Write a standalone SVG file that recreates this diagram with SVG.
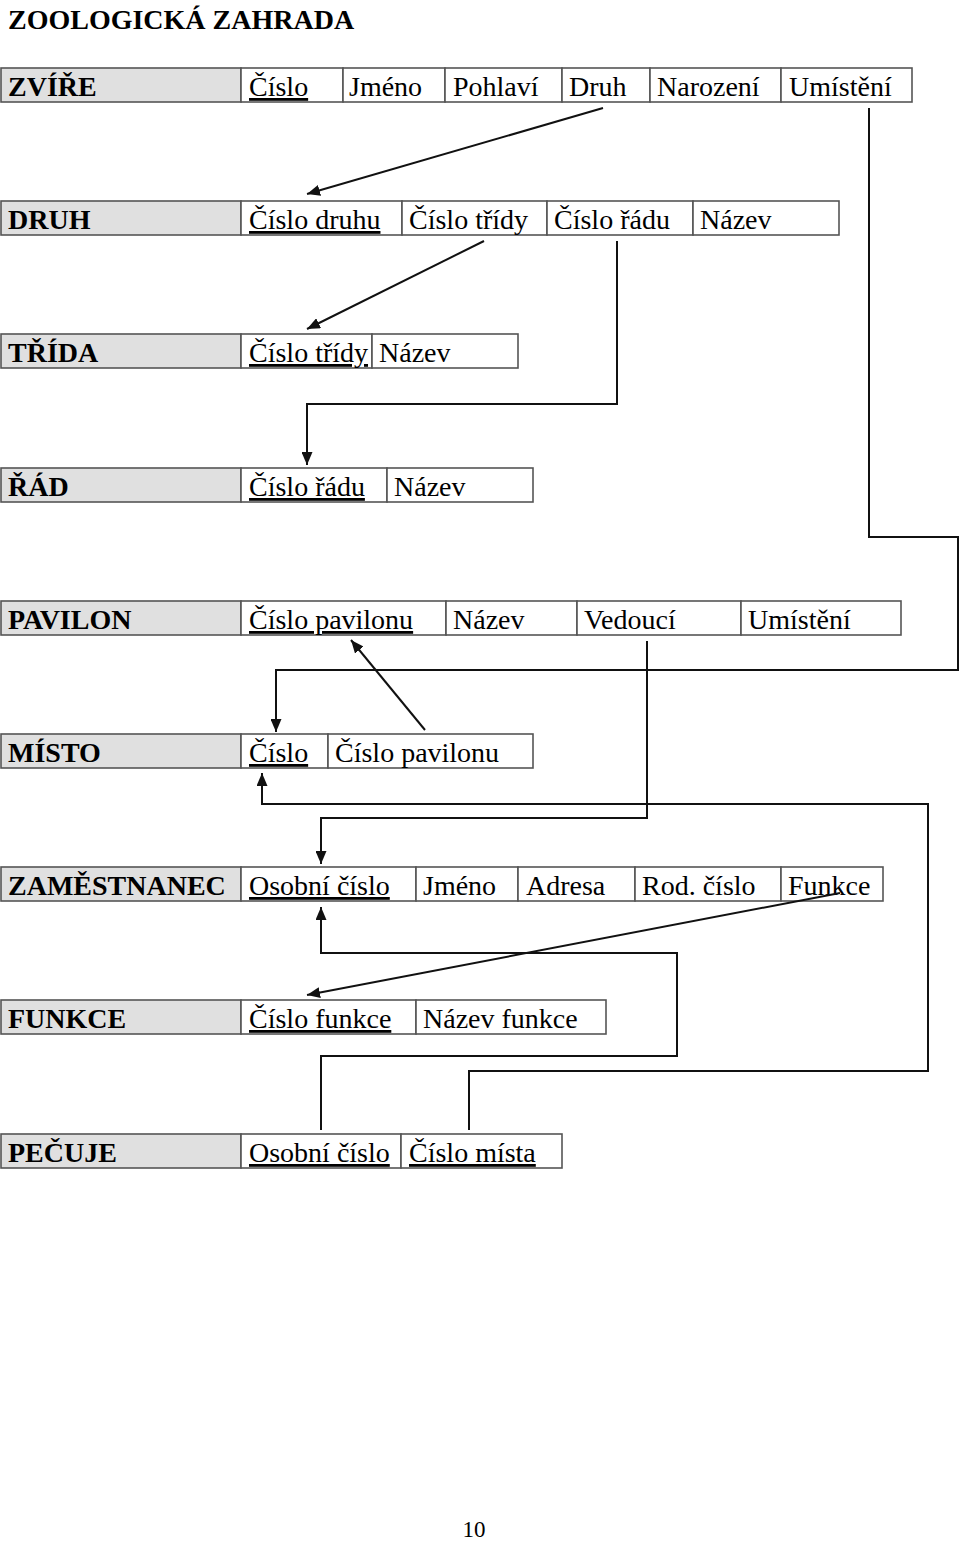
<svg xmlns="http://www.w3.org/2000/svg" width="960" height="1541" viewBox="0 0 960 1541">
<style>
  text { font-family: "Liberation Serif", "Times New Roman", serif; font-size: 28px; fill: #000; }
  .title, .name { font-weight: bold; }
  .key { text-decoration: underline; }
  .hd { fill: #e0e0e0; stroke: #555; stroke-width: 1.6; }
  .cell { fill: #fff; stroke: #555; stroke-width: 1.6; }
  .conn { fill: none; stroke: #111; stroke-width: 2; }
  .page { font-size: 23px; }
</style>
<defs>
  <marker id="arr" markerUnits="userSpaceOnUse" markerWidth="13" markerHeight="11" refX="13" refY="5.5" orient="auto">
    <path d="M0,0 L13,5.5 L0,11 z" fill="#111"/>
  </marker>
</defs>
<rect width="960" height="1541" fill="#fff"/>
<text class="title" x="8" y="29">ZOOLOGICKÁ ZAHRADA</text>

<g id="zvire">
  <rect class="hd" x="1" y="68" width="240" height="34"/>
  <rect class="cell" x="241" y="68" width="102" height="34"/>
  <rect class="cell" x="343" y="68" width="102" height="34"/>
  <rect class="cell" x="445" y="68" width="117" height="34"/>
  <rect class="cell" x="562" y="68" width="88" height="34"/>
  <rect class="cell" x="650" y="68" width="131" height="34"/>
  <rect class="cell" x="781" y="68" width="131" height="34"/>
  <text class="name" x="8" y="96">ZVÍŘE</text>
  <text class="key" x="249" y="96">Číslo</text>
  <text x="349" y="96">Jméno</text>
  <text x="453" y="96">Pohlaví</text>
  <text x="569" y="96">Druh</text>
  <text x="657" y="96">Narození</text>
  <text x="789" y="96">Umístění</text>
</g>

<g id="druh">
  <rect class="hd" x="1" y="201" width="240" height="34"/>
  <rect class="cell" x="241" y="201" width="161" height="34"/>
  <rect class="cell" x="402" y="201" width="145" height="34"/>
  <rect class="cell" x="547" y="201" width="146" height="34"/>
  <rect class="cell" x="693" y="201" width="146" height="34"/>
  <text class="name" x="8" y="229">DRUH</text>
  <text class="key" x="249" y="229">Číslo druhu</text>
  <text x="409" y="229">Číslo třídy</text>
  <text x="554" y="229">Číslo řádu</text>
  <text x="700" y="229">Název</text>
</g>

<g id="trida">
  <rect class="hd" x="1" y="334" width="240" height="34"/>
  <rect class="cell" x="241" y="334" width="131" height="34"/>
  <rect class="cell" x="372" y="334" width="146" height="34"/>
  <text class="name" x="8" y="362">TŘÍDA</text>
  <text class="key" x="249" y="362">Číslo třídy</text>
  <text x="379" y="362">Název</text>
</g>

<g id="rad">
  <rect class="hd" x="1" y="468" width="240" height="34"/>
  <rect class="cell" x="241" y="468" width="146" height="34"/>
  <rect class="cell" x="387" y="468" width="146" height="34"/>
  <text class="name" x="8" y="496">ŘÁD</text>
  <text class="key" x="249" y="496">Číslo řádu</text>
  <text x="394" y="496">Název</text>
</g>

<g id="pavilon">
  <rect class="hd" x="1" y="601" width="240" height="34"/>
  <rect class="cell" x="241" y="601" width="205" height="34"/>
  <rect class="cell" x="446" y="601" width="131" height="34"/>
  <rect class="cell" x="577" y="601" width="164" height="34"/>
  <rect class="cell" x="741" y="601" width="160" height="34"/>
  <text class="name" x="8" y="629">PAVILON</text>
  <text class="key" x="249" y="629">Číslo pavilonu</text>
  <text x="453" y="629">Název</text>
  <text x="584" y="629">Vedoucí</text>
  <text x="748" y="629">Umístění</text>
</g>

<g id="misto">
  <rect class="hd" x="1" y="734" width="240" height="34"/>
  <rect class="cell" x="241" y="734" width="87" height="34"/>
  <rect class="cell" x="328" y="734" width="205" height="34"/>
  <text class="name" x="8" y="762">MÍSTO</text>
  <text class="key" x="249" y="762">Číslo</text>
  <text x="335" y="762">Číslo pavilonu</text>
</g>

<g id="zamestnanec">
  <rect class="hd" x="1" y="867" width="240" height="34"/>
  <rect class="cell" x="241" y="867" width="175" height="34"/>
  <rect class="cell" x="416" y="867" width="102" height="34"/>
  <rect class="cell" x="518" y="867" width="117" height="34"/>
  <rect class="cell" x="635" y="867" width="146" height="34"/>
  <rect class="cell" x="781" y="867" width="102" height="34"/>
  <text class="name" x="8" y="895">ZAMĚSTNANEC</text>
  <text class="key" x="249" y="895">Osobní číslo</text>
  <text x="423" y="895">Jméno</text>
  <text x="526" y="895">Adresa</text>
  <text x="642" y="895">Rod. číslo</text>
  <text x="788" y="895">Funkce</text>
</g>

<g id="funkce">
  <rect class="hd" x="1" y="1000" width="240" height="34"/>
  <rect class="cell" x="241" y="1000" width="175" height="34"/>
  <rect class="cell" x="416" y="1000" width="190" height="34"/>
  <text class="name" x="8" y="1028">FUNKCE</text>
  <text class="key" x="249" y="1028">Číslo funkce</text>
  <text x="423" y="1028">Název funkce</text>
</g>

<g id="pecuje">
  <rect class="hd" x="1" y="1134" width="240" height="34"/>
  <rect class="cell" x="241" y="1134" width="160" height="34"/>
  <rect class="cell" x="401" y="1134" width="161" height="34"/>
  <text class="name" x="8" y="1162">PEČUJE</text>
  <text class="key" x="249" y="1162">Osobní číslo</text>
  <text class="key" x="409" y="1162">Číslo místa</text>
</g>

<g id="connectors">
  <path class="conn" d="M603,108 L307,194" marker-end="url(#arr)"/>
  <path class="conn" d="M869,108 V537 H958 V670 H276 V732" marker-end="url(#arr)"/>
  <path class="conn" d="M484,241 L307,329" marker-end="url(#arr)"/>
  <path class="conn" d="M617,241 V404 H307 V465" marker-end="url(#arr)"/>
  <path class="conn" d="M425,730 L351,640" marker-end="url(#arr)"/>
  <path class="conn" d="M647,641 V818 H321 V864" marker-end="url(#arr)"/>
  <path class="conn" d="M469,1130 V1071 H928 V804 H262 V773" marker-end="url(#arr)"/>
  <path class="conn" d="M321,1130 V1056 H677 V953 H321 V907" marker-end="url(#arr)"/>
  <path class="conn" d="M840,893 L307,995" marker-end="url(#arr)"/>
</g>

<text class="page" x="474" y="1537" text-anchor="middle">10</text>
</svg>
